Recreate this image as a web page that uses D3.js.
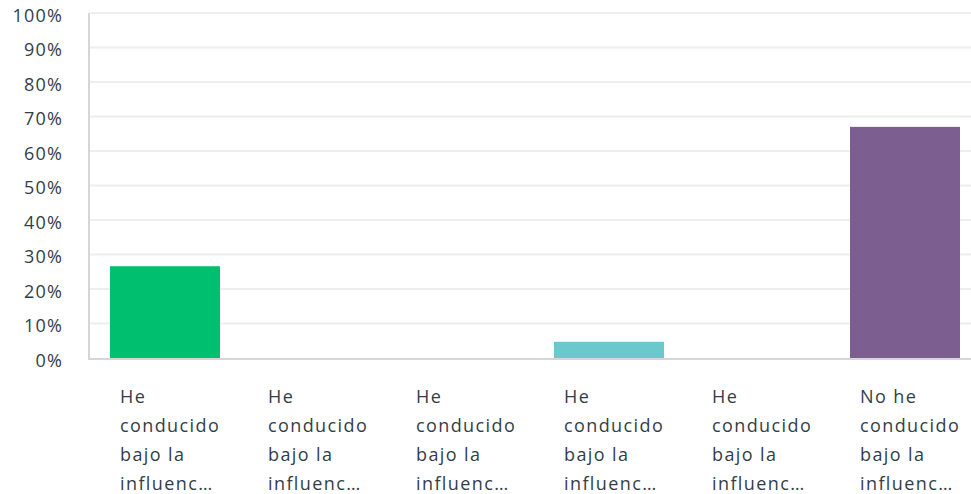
<!DOCTYPE html>
<html>
<head>
<meta charset="utf-8">
<script src="https://cdn.jsdelivr.net/npm/d3@7"></script>
<style>
  body { margin: 0; background: #fff; }
  svg text { font-family: "Open Sans", sans-serif; fill: #333e48; }
</style>
</head>
<body>
<svg width="971" height="494"></svg>
<script>
var categories = ["c1", "c2", "c3", "c4", "c5", "c6"];
var labels = [
  ["He", "conducido", "bajo la", "influenc…"],
  ["He", "conducido", "bajo la", "influenc…"],
  ["He", "conducido", "bajo la", "influenc…"],
  ["He", "conducido", "bajo la", "influenc…"],
  ["He", "conducido", "bajo la", "influenc…"],
  ["No he", "conducido", "bajo la", "influenc…"]
];
var values = [26.6, 0, 0, 4.7, 0, 67.0];
var colors = ["#00bf6f", "#507cb6", "#f9be00", "#6bc8cd", "#ff8b4f", "#7d5e90"];
var yTicks = [0, 10, 20, 30, 40, 50, 60, 70, 80, 90, 100];

var svg = d3.select("svg"),
    plotLeft = 90, plotRight = 971, plotTop = 13, plotBottom = 358;

var y = d3.scaleLinear()
          .domain([0, 100])
          .range([plotBottom, plotTop]);

var x = d3.scaleBand()
          .domain(categories)
          .range([91, 979])
          .paddingInner(38/148)
          .paddingOuter(19/148);

//Gridlines
svg.append("g")
   .selectAll("line")
   .data(yTicks.filter(d => d > 0))
   .enter().append("line")
     .attr("x1", plotLeft)
     .attr("x2", plotRight)
     .attr("y1", d => y(d))
     .attr("y2", d => y(d))
     .style("stroke", "#eeeeee")
     .style("stroke-width", 2);

//Y tick labels
svg.append("g")
   .selectAll("text")
   .data(yTicks)
   .enter().append("text")
     .attr("x", 63)
     .attr("y", d => y(d) + 8.6)
     .attr("text-anchor", "end")
     .style("font-size", "18px")
     .style("letter-spacing", "1.2px")
     .text(d => d + "%");

//Bars
svg.append("g")
   .selectAll("rect")
   .data(values)
   .enter().append("rect")
     .attr("x", (d, i) => x(categories[i]))
     .attr("y", d => y(d))
     .attr("width", x.bandwidth())
     .attr("height", d => plotBottom - y(d))
     .style("fill", (d, i) => colors[i]);

//Axis lines
svg.append("line")
   .attr("x1", plotLeft - 1).attr("x2", plotLeft - 1)
   .attr("y1", plotTop).attr("y2", plotBottom)
   .style("stroke", "#d6d6d6").style("stroke-width", 2);

svg.append("line")
   .attr("x1", plotLeft - 2).attr("x2", plotRight)
   .attr("y1", plotBottom + 1).attr("y2", plotBottom + 1)
   .style("stroke", "#d6d6d6").style("stroke-width", 2);

//Category labels
var lab = svg.append("g")
   .selectAll("text")
   .data(categories)
   .enter().append("text")
     .attr("x", d => x(d) + 10)
     .attr("y", 403)
     .style("font-size", "18px")
     .style("letter-spacing", "1.4px");

lab.selectAll("tspan")
   .data((d, i) => labels[i])
   .enter().append("tspan")
     .attr("x", function() { return d3.select(this.parentNode).attr("x"); })
     .attr("dy", (d, j) => j === 0 ? 0 : 29)
     .text(d => d);
</script>
</body>
</html>
